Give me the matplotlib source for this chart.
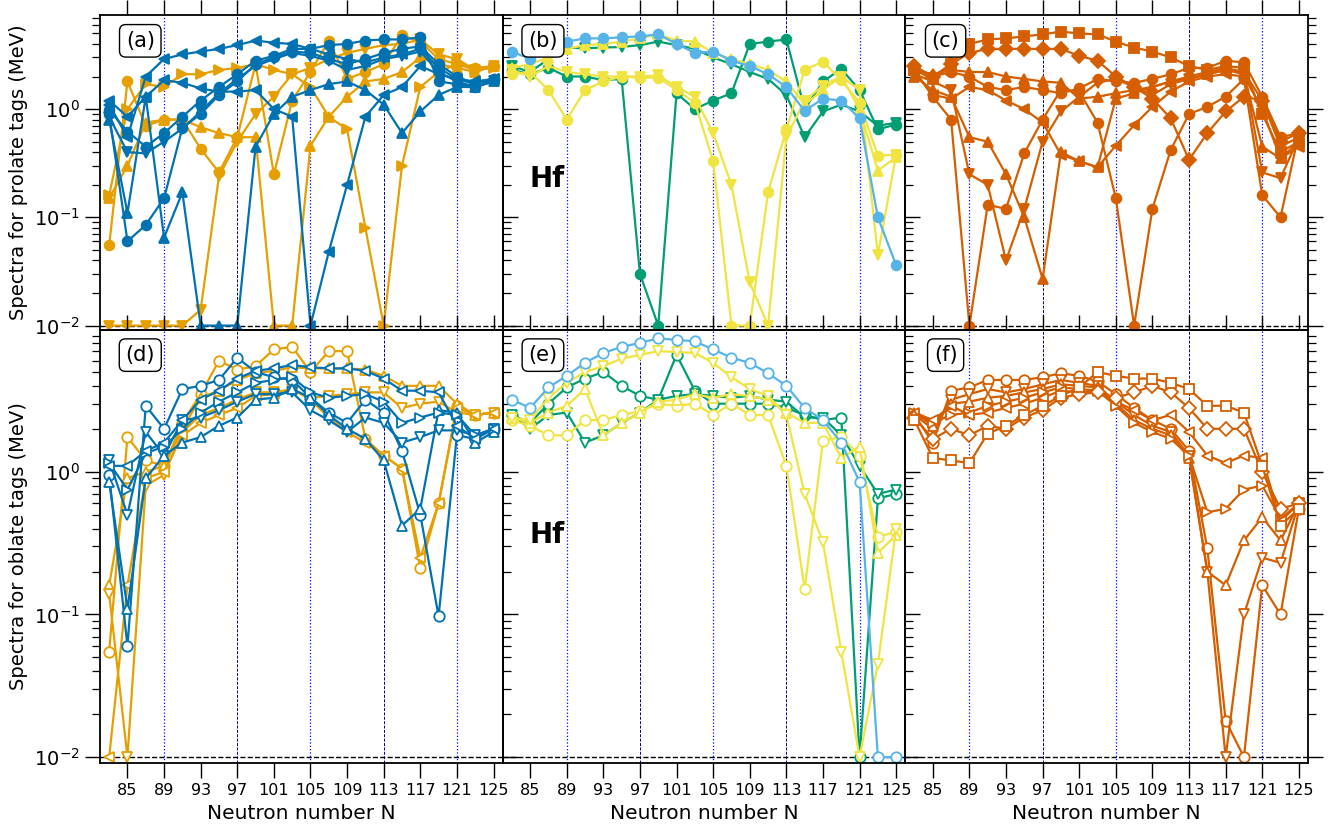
import numpy as np
import matplotlib
matplotlib.use("Agg")
import matplotlib.pyplot as plt
from matplotlib.ticker import LogLocator, NullFormatter

# ---------- data (neutron number N = 83, 85, ..., 125) ----------
N = np.arange(83, 127, 2)
x_ticks = np.arange(85, 127, 4)

# panel (a): prolate, blue / orange
a_blue_lt = [1.1, 0.55, 2.0, 2.9, 3.2, 3.4, 3.6, 3.9, 4.3, 4.1, 4.0, 3.6, 3.2, 2.9, 2.7, 3.0, 3.2, 3.6, 2.4, 1.9, 1.7, 1.9]
a_blue_o1 = [0.98, 0.62, 0.45, 0.6, 0.85, 1.2, 1.6, 2.1, 2.8, 3.1, 3.6, 3.6, 3.9, 4.0, 4.3, 4.4, 4.4, 4.6, 1.8, 1.7, 1.6, 1.9]
a_blue_o2 = [0.9, 0.06, 0.085, 0.15, 0.67, 0.9, 1.35, 1.8, 2.6, 3.0, 3.4, 3.3, 2.9, 2.6, 2.9, 3.3, 3.6, 3.8, 2.6, 2.0, 1.7, 1.9]
a_blue_v = [0.85, 0.4, 0.39, 0.5, 0.66, 0.95, 1.4, 1.9, 2.5, 2.9, 3.3, 3.1, 2.8, 2.3, 2.5, 2.9, 3.1, 3.4, 2.2, 1.8, 1.6, 1.8]
a_blue_up = [0.8, 0.11, 1.3, 0.065, 0.17, 0.01, 0.01, 0.01, 0.45, 0.9, 1.3, 1.5, 1.7, 1.8, 1.5, 1.1, 0.6, 0.95, 1.35, 1.6, 1.6, 1.8]
a_blue_gt = [1.2, 0.85, 1.3, 1.85, 1.75, 1.55, 1.45, 1.45, 1.5, 1.0, 0.85, 0.01, 0.048, 0.2, 0.85, 1.35, 1.6, 2.5, 2.1, 1.9, 1.8, 1.9]
a_or_o = [0.055, 1.8, 0.7, 0.8, 0.8, 0.43, 0.26, 0.55, 2.6, 0.25, 1.2, 2.2, 4.3, 1.9, 2.2, 2.6, 4.8, 4.2, 2.9, 2.6, 2.4, 2.5]
a_or_up = [0.15, 0.3, 0.75, 0.8, 0.8, 0.68, 0.6, 0.55, 0.55, 0.01, 0.01, 0.46, 0.85, 1.3, 1.8, 1.9, 2.2, 3.0, 2.6, 2.4, 2.2, 2.5]
a_or_v = [0.01, 0.01, 0.01, 0.01, 0.01, 0.014, 0.24, 0.5, 0.9, 1.3, 2.1, 2.4, 2.9, 3.3, 3.6, 3.9, 4.0, 4.4, 3.2, 2.9, 2.3, 2.5]
a_or_gt = [0.16, 1.0, 1.7, 1.6, 2.1, 2.1, 2.3, 2.4, 2.6, 2.3, 2.1, 1.6, 0.85, 0.65, 0.08, 0.01, 0.3, 1.6, 2.2, 2.6, 2.3, 2.4]

# panel (b): prolate, sky blue / green / yellow
b_sky_o = [3.4, 2.9, 3.6, 4.2, 4.5, 4.5, 4.6, 4.7, 4.9, 4.0, 3.3, 3.4, 2.8, 2.5, 2.1, 1.6, 0.96, 1.25, 1.2, 0.82, 0.1, 0.036]
b_grn_v = [2.5, 2.2, 2.9, 3.7, 3.65, 3.7, 3.75, 3.9, 4.2, 3.9, 3.6, 3.0, 2.6, 2.2, 1.9, 1.35, 0.55, 0.95, 1.1, 0.95, 0.7, 0.75]
b_grn_o = [2.3, 2.1, 2.4, 2.0, 2.0, 1.85, 1.9, 0.03, 0.01, 1.4, 1.0, 1.2, 1.4, 4.0, 4.2, 4.4, 1.0, 1.8, 2.35, 1.5, 0.65, 0.72]
b_yel_up = [2.4, 2.6, 3.0, 3.6, 3.9, 4.0, 4.2, 4.5, 4.9, 4.3, 4.2, 3.3, 2.9, 2.6, 2.3, 1.8, 1.1, 1.5, 2.0, 1.0, 0.27, 0.36]
b_yel_o = [2.1, 2.2, 1.5, 0.8, 1.5, 1.8, 2.0, 1.95, 1.95, 1.5, 1.15, 0.33, 0.01, 0.01, 0.17, 0.65, 2.3, 2.75, 1.85, 1.15, 0.37, 0.38]
b_yel_v = [2.3, 2.0, 2.5, 2.2, 2.1, 2.0, 2.0, 2.0, 2.05, 1.6, 1.3, 0.6, 0.2, 0.025, 0.01, 0.55, 1.2, 1.65, 2.0, 1.5, 0.045, 0.38]

# panel (c): prolate, vermillion
c_sq = [2.3, 1.9, 2.6, 4.0, 4.4, 4.5, 4.7, 4.9, 5.2, 5.0, 4.9, 4.2, 3.7, 3.4, 3.0, 2.5, 2.3, 2.5, 2.4, 0.9, 0.4, 0.5]
c_lt = [2.2, 1.35, 1.25, 1.6, 1.5, 1.2, 1.0, 0.75, 0.38, 0.33, 0.29, 0.46, 0.71, 1.05, 1.45, 1.8, 2.0, 2.1, 2.0, 1.0, 0.35, 0.45]
c_dia = [2.5, 2.0, 2.6, 3.3, 3.6, 3.6, 3.6, 3.6, 3.6, 3.1, 2.8, 2.0, 1.6, 1.25, 0.82, 0.34, 0.6, 0.95, 1.3, 1.2, 0.5, 0.6]
c_up1 = [2.3, 2.1, 2.3, 2.2, 2.2, 2.0, 1.9, 1.8, 1.75, 1.25, 1.3, 1.4, 1.5, 1.6, 1.8, 2.0, 2.2, 2.4, 2.2, 1.2, 0.45, 0.55]
c_up2 = [2.0, 1.5, 1.3, 0.55, 0.5, 0.25, 0.1, 0.027, 0.4, 0.33, 0.29, 1.25, 1.4, 1.6, 1.8, 1.9, 2.1, 2.3, 2.1, 0.45, 0.35, 0.5]
c_v = [2.1, 1.8, 1.5, 0.25, 0.2, 0.04, 0.12, 0.5, 0.95, 1.3, 1.75, 1.9, 1.6, 1.35, 1.7, 1.9, 2.1, 2.3, 2.2, 0.26, 0.23, 0.55]
c_o1 = [2.3, 1.3, 0.8, 0.01, 0.13, 0.12, 0.39, 0.8, 1.5, 1.45, 0.75, 0.15, 0.01, 0.12, 0.42, 0.9, 1.05, 1.3, 1.9, 0.16, 0.1, 0.6]
c_o2 = [2.4, 2.0, 2.2, 2.0, 1.6, 1.5, 1.6, 1.5, 1.4, 1.55, 1.9, 1.8, 1.75, 1.9, 2.1, 2.4, 2.4, 2.8, 2.7, 1.3, 0.55, 0.6]

# panel (d): oblate, blue / orange
d_blue_o = [0.95, 0.06, 2.9, 2.0, 3.8, 4.0, 4.4, 6.3, 5.0, 4.6, 4.4, 3.3, 2.6, 2.2, 3.2, 2.6, 1.4, 0.5, 0.097, 1.8, 1.7, 2.0]
d_blue_lt = [1.1, 1.1, 1.4, 1.6, 2.3, 3.2, 3.7, 4.5, 5.1, 5.3, 5.6, 5.4, 5.3, 5.3, 5.1, 4.5, 3.7, 3.7, 3.6, 2.1, 1.7, 2.0]
d_blue_gt = [1.15, 0.75, 1.35, 1.5, 2.0, 2.6, 3.1, 3.6, 4.2, 4.4, 4.6, 3.6, 3.3, 3.4, 3.5, 3.1, 2.2, 2.4, 2.6, 2.5, 1.8, 2.0]
d_blue_v = [1.2, 0.5, 1.9, 1.3, 2.3, 2.4, 2.7, 3.1, 3.5, 3.5, 3.6, 2.7, 2.3, 1.9, 2.4, 2.2, 1.6, 1.75, 1.95, 1.95, 1.8, 2.0]
d_blue_up = [0.85, 0.11, 0.9, 1.3, 1.6, 1.75, 2.1, 2.4, 3.2, 3.3, 3.8, 3.3, 2.5, 2.0, 1.7, 1.2, 0.42, 0.55, 2.7, 2.6, 1.6, 1.9]
d_or_o = [0.055, 1.75, 1.2, 1.1, 2.2, 3.5, 6.0, 5.2, 5.5, 7.2, 7.5, 5.0, 7.0, 7.0, 1.7, 1.3, 1.05, 0.21, 0.6, 2.9, 2.5, 2.6]
d_or_up = [0.16, 0.9, 1.0, 1.1, 2.0, 3.3, 3.7, 4.4, 4.9, 5.1, 5.4, 5.3, 5.3, 5.3, 5.2, 4.7, 4.0, 4.0, 4.0, 3.0, 2.5, 2.6]
d_or_v = [0.14, 0.01, 0.8, 0.95, 1.9, 2.5, 2.8, 3.2, 3.6, 3.6, 3.8, 3.3, 3.4, 3.5, 3.6, 3.6, 2.8, 3.0, 3.1, 2.6, 2.5, 2.6]
d_or_lt = [0.01, 0.16, 0.9, 1.0, 1.8, 2.2, 2.5, 2.8, 3.4, 3.5, 3.8, 3.2, 2.4, 1.9, 1.6, 1.3, 1.05, 0.25, 0.6, 2.8, 2.5, 2.6]

# panel (e): oblate, sky blue / green / yellow
e_sky_o = [3.2, 2.8, 3.9, 4.7, 5.8, 6.8, 7.5, 8.0, 8.6, 8.4, 8.2, 7.2, 6.3, 5.8, 4.9, 4.0, 2.8, 2.3, 1.6, 0.85, 0.01, 0.01]
e_yel_v = [2.4, 2.3, 3.3, 4.2, 5.0, 5.5, 6.2, 6.6, 7.0, 6.9, 6.8, 5.8, 4.6, 3.8, 3.4, 2.5, 0.7, 0.32, 0.055, 0.01, 0.045, 0.4]
e_grn_v = [2.5, 2.0, 2.5, 2.6, 1.6, 1.8, 2.2, 2.6, 3.2, 3.4, 3.5, 3.4, 3.3, 3.4, 3.2, 3.1, 2.4, 2.4, 1.8, 1.1, 0.7, 0.75]
e_grn_o = [2.5, 2.2, 3.0, 3.9, 4.5, 5.0, 4.0, 3.4, 3.2, 6.6, 3.7, 3.0, 3.0, 3.0, 3.0, 2.8, 2.5, 2.3, 2.4, 0.01, 0.65, 0.7]
e_yel_o = [2.3, 2.1, 1.8, 1.8, 2.3, 2.3, 2.5, 2.65, 3.0, 2.9, 3.0, 2.5, 3.0, 2.5, 2.5, 1.1, 0.15, 1.65, 1.75, 1.3, 0.35, 0.38]
e_yel_up = [2.4, 2.2, 2.6, 2.9, 3.8, 1.8, 2.2, 2.6, 3.1, 3.2, 3.5, 3.3, 3.5, 3.4, 3.2, 2.6, 2.2, 2.2, 1.25, 1.5, 0.27, 0.36]

# panel (f): oblate, vermillion
f_sq = [2.3, 1.25, 1.2, 1.15, 1.85, 2.1, 2.5, 2.9, 3.4, 3.9, 5.0, 4.7, 4.5, 4.5, 4.2, 3.8, 2.9, 2.9, 2.6, 1.1, 0.42, 0.55]
f_dia = [2.4, 1.7, 2.0, 1.8, 2.1, 2.0, 2.4, 2.7, 3.3, 3.5, 3.6, 3.3, 3.6, 4.0, 3.6, 2.8, 2.0, 2.0, 2.0, 1.0, 0.55, 0.6]
f_o = [2.5, 1.6, 3.7, 3.9, 4.4, 4.4, 4.4, 4.6, 4.9, 4.7, 4.3, 3.5, 2.8, 2.3, 2.0, 1.4, 0.29, 0.018, 0.01, 0.16, 0.1, 0.55]
f_v = [2.5, 2.0, 3.2, 3.5, 3.8, 3.6, 3.8, 4.1, 4.4, 4.2, 4.0, 3.1, 2.5, 2.1, 1.9, 1.3, 0.2, 0.01, 0.1, 0.25, 0.23, 0.6]
f_up = [2.6, 2.1, 3.0, 3.1, 3.3, 3.4, 3.6, 3.8, 4.1, 4.0, 3.9, 3.0, 2.3, 2.0, 1.8, 1.25, 0.2, 0.16, 0.33, 0.48, 0.33, 0.6]
f_gt = [2.6, 2.2, 2.5, 2.6, 2.9, 3.1, 3.3, 3.6, 3.9, 3.8, 3.7, 2.9, 2.2, 1.9, 1.7, 1.3, 0.52, 0.55, 0.75, 0.8, 0.47, 0.6]
f_lt = [2.6, 2.3, 2.9, 2.5, 2.6, 2.8, 3.0, 3.3, 3.7, 3.6, 3.7, 3.1, 2.7, 2.3, 2.5, 1.9, 1.3, 1.15, 1.3, 1.25, 0.45, 0.6]

# Okabe-Ito colours
BLUE, ORANGE, GREEN = "#0072B2", "#E69F00", "#009E73"
SKY, YELLOW, VERM = "#56B4E9", "#F0E442", "#D55E00"

panels = [
    ("(a)", [(a_or_o, ORANGE, "o"), (a_or_up, ORANGE, "^"), (a_or_v, ORANGE, "v"), (a_or_gt, ORANGE, ">"),
             (a_blue_o1, BLUE, "o"), (a_blue_o2, BLUE, "o"), (a_blue_v, BLUE, "v"), (a_blue_up, BLUE, "^"),
             (a_blue_gt, BLUE, "<"), (a_blue_lt, BLUE, "<")]),
    ("(b)", [(b_grn_o, GREEN, "o"), (b_grn_v, GREEN, "v"), (b_yel_o, YELLOW, "o"), (b_yel_v, YELLOW, "v"),
             (b_yel_up, YELLOW, "^"), (b_sky_o, SKY, "o")]),
    ("(c)", [(c_o1, VERM, "o"), (c_o2, VERM, "o"), (c_v, VERM, "v"), (c_up1, VERM, "^"), (c_up2, VERM, "^"),
             (c_lt, VERM, "<"), (c_dia, VERM, "D"), (c_sq, VERM, "s")]),
    ("(d)", [(d_or_o, ORANGE, "o"), (d_or_up, ORANGE, "^"), (d_or_v, ORANGE, "v"), (d_or_lt, ORANGE, "<"),
             (d_blue_o, BLUE, "o"), (d_blue_v, BLUE, "v"), (d_blue_up, BLUE, "^"), (d_blue_gt, BLUE, ">"),
             (d_blue_lt, BLUE, "<")]),
    ("(e)", [(e_grn_o, GREEN, "o"), (e_grn_v, GREEN, "v"), (e_yel_o, YELLOW, "o"), (e_yel_up, YELLOW, "^"),
             (e_yel_v, YELLOW, "v"), (e_sky_o, SKY, "o")]),
    ("(f)", [(f_o, VERM, "o"), (f_v, VERM, "v"), (f_up, VERM, "^"), (f_gt, VERM, ">"), (f_lt, VERM, "<"),
             (f_dia, VERM, "D"), (f_sq, VERM, "s")]),
]

# ---------- figure ----------
fig = plt.figure(figsize=(13.38, 8.31), dpi=100)
left, right, top, bottom = 100 / 1338, 1308 / 1338, 1 - 15 / 831, 1 - 763 / 831
w = (right - left) / 3
h_top = 315 / 831
h_bot = 433 / 831

axes = []
for i, (label, series) in enumerate(panels):
    row, col = divmod(i, 3)
    if row == 0:
        rect = [left + col * w, top - h_top, w, h_top]
    else:
        rect = [left + col * w, bottom, w, h_bot]
    ax = fig.add_axes(rect)
    ax.patch.set_alpha(0)
    filled = row == 0
    for vals, col_, mk in series:
        ax.plot(N, vals, color=col_, marker=mk, lw=1.6, ms=7 if filled else 7.5,
                mfc=col_ if filled else "white", mec=col_, mew=1.3)

    ax.set_yscale("log")
    ax.set_xlim(82, 126)
    ax.set_ylim((0.0091, 7.4) if row == 0 else (0.0091, 9.85))

    # guide lines
    for xv in (89, 105, 121):
        ax.axvline(xv, color="blue", ls=":", lw=0.9, zorder=0)
    for xv in (97, 113):
        ax.axvline(xv, color="#000080", ls=(0, (3, 1.5)), lw=0.7, zorder=0)
    ax.axhline(0.01, color="black", ls="--", lw=1.0, zorder=0)

    ax.set_xticks(x_ticks)
    ax.yaxis.set_major_locator(LogLocator(base=10, numticks=10))
    ax.yaxis.set_minor_locator(LogLocator(base=10, subs=np.arange(2, 10), numticks=10))
    ax.yaxis.set_minor_formatter(NullFormatter())
    ax.tick_params(which="major", direction="out", length=11, width=1.0,
                   top=True, right=True, labelsize=14)
    ax.tick_params(which="minor", direction="out", length=5.5, width=0.9,
                   top=False, right=True)
    ax.tick_params(axis="x", labelsize=11.5)
    for sp in ax.spines.values():
        sp.set_linewidth(1.3)

    if row == 0:
        ax.tick_params(axis="x", which="both", bottom=False, labelbottom=False)
    else:
        ax.set_xlabel("Neutron number N", fontsize=14.5)
    if col != 0:
        ax.tick_params(axis="y", which="both", left=False, labelleft=False)

    ax.text(0.1, 0.918 if row == 0 else 0.942, label, transform=ax.transAxes,
            fontsize=15, ha="center", va="center",
            bbox=dict(boxstyle="round,pad=0.3", fc="white", ec="black", lw=1.0))
    if col == 1:
        ax.text(0.067, 0.48 if row == 0 else 0.526, "Hf", transform=ax.transAxes,
                fontsize=20, fontweight="bold", ha="left", va="center")
    axes.append(ax)

axes[0].set_ylabel("Spectra for prolate tags (MeV)", fontsize=14)
axes[3].set_ylabel("Spectra for oblate tags (MeV)", fontsize=14)

fig.savefig("out.png", dpi=100)
